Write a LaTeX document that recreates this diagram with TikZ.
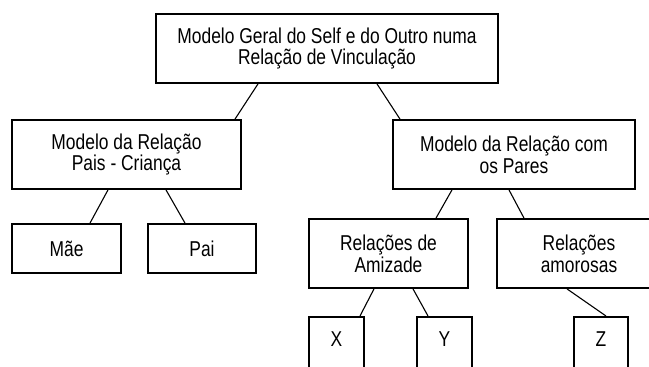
\documentclass[tikz,border=0pt]{standalone}
\usepackage{fontspec}
\setmainfont{Liberation Sans}[FakeStretch=0.81]
\usetikzlibrary{positioning}

\begin{document}
\begin{tikzpicture}
		[x=1pt,y=-1pt,
		bignode/.style={rectangle, draw=black, line width=1.8pt, minimum height=69pt, align=center, inner sep=2pt, font=\fontsize{21.5}{21.7}\selectfont},
		smallnode/.style={rectangle, draw=black, line width=1.8pt, minimum height=49pt, inner sep=2pt, font=\fontsize{21.5}{21.7}\selectfont},
		leafnode/.style={rectangle, draw=black, line width=1.8pt, anchor=north, inner xsep=2pt, inner ysep=14pt, text height=15.7pt, text depth=30pt, font=\fontsize{21.5}{21.7}\selectfont},
		link/.style={line width=1.1pt},
		]
		\useasboundingbox (0,0) rectangle (649,367);
		\clip (0,0) rectangle (649,367);
		
		%Nodes
		\node[bignode, minimum width=342pt](geral) at (327,48.5) {Modelo Geral do Self e do Outro numa\\Relação de Vinculação};
		\node[bignode, minimum width=229pt](paiscrianca) at (126.5,154.5) {Modelo da Relação\\Pais - Criança};
		\node[bignode, minimum width=242pt](pares) at (514,154.5) {Modelo da Relação com\\os Pares};
		\node[smallnode, minimum width=109pt](mae) at (66.5,248.5) {Mãe};
		\node[smallnode, minimum width=108pt](pai) at (202,248.5) {Pai};
		\node[bignode, minimum width=159pt](amizade) at (388.5,253.5) {Relações de\\Amizade};
		\node[bignode, minimum width=164pt](amorosas) at (579,253.5) {Relações\\amorosas};
		\node[leafnode, minimum width=55pt](xnode) at (336.5,316) {X};
		\node[leafnode, minimum width=55pt](ynode) at (444.5,316) {Y};
		\node[leafnode, minimum width=54pt](znode) at (601,316) {Z};
		%Lines
		\draw[link]([xshift=-69pt]geral.south) -- ([xshift=108.5pt]paiscrianca.north);
		\draw[link]([xshift=50pt]geral.south) -- ([xshift=-114pt]pares.north);
		\draw[link]([xshift=-18.5pt]paiscrianca.south) -- ([xshift=23.5pt]mae.north);
		\draw[link]([xshift=39.5pt]paiscrianca.south) -- ([xshift=-17pt]pai.north);
		\draw[link]([xshift=-62pt]pares.south) -- ([xshift=47.5pt]amizade.north);
		\draw[link]([xshift=-5pt]pares.south) -- ([xshift=-55pt]amorosas.north);
		\draw[link]([xshift=-14.5pt]amizade.south) -- ([xshift=23.5pt]xnode.north);
		\draw[link]([xshift=24.5pt]amizade.south) -- ([xshift=-16.5pt]ynode.north);
		\draw[link]([xshift=-12pt]amorosas.south) -- ([xshift=5pt]znode.north);
	\end{tikzpicture}
\end{document}
